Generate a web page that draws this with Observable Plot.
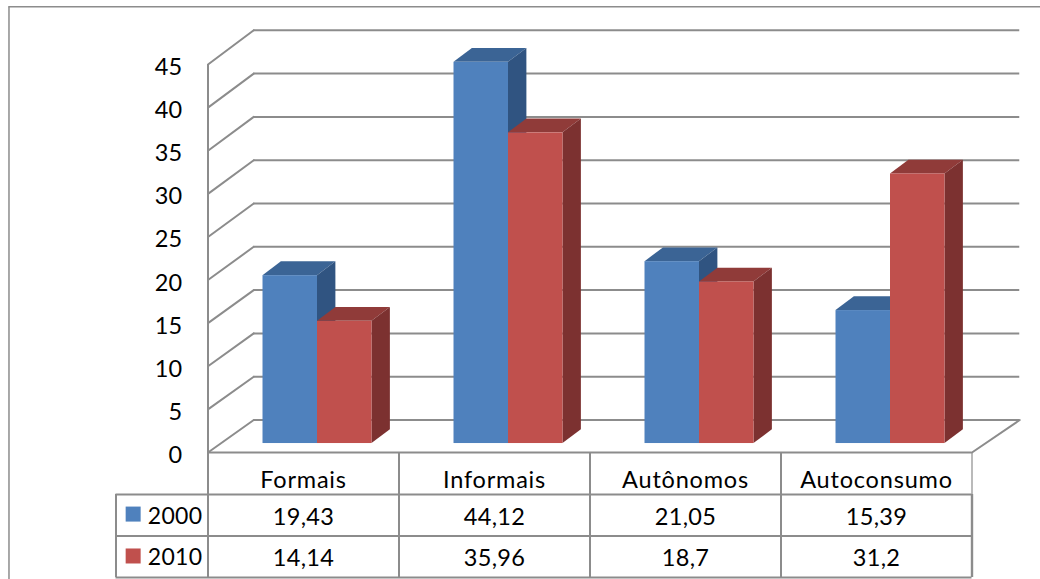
<!DOCTYPE html>
<html>
<head>
<meta charset="utf-8">
<script src="https://cdn.jsdelivr.net/npm/d3@7"></script>
<script src="https://cdn.jsdelivr.net/npm/@observablehq/plot@0.6"></script>
<style>
  html, body { margin: 0; padding: 0; background: #fff; }
  svg { display: block; }
</style>
</head>
<body>
<div id="chart"></div>
<script>
// Chart data
const categories = ["Formais", "Informais", "Autônomos", "Autoconsumo"];
const seriesNames = ["2000", "2010"];
const values2000 = [19.43, 44.12, 21.05, 15.39];
const values2010 = [14.14, 35.96, 18.7, 31.2];
const yTicks = [0, 5, 10, 15, 20, 25, 30, 35, 40, 45];

// Face colours for each series
const frontColors = ["#4f81bd", "#c0504d"];
const topColors = ["#3b6495", "#903b39"];
const sideColors = ["#305481", "#7c3130"];
const lineColor = "#8c8c8c";
const font = "Lato, 'Noto Sans', sans-serif";
const fontSize = 23.5;

// Pseudo-3D geometry, in scale units (x: one unit per category, y: chart value)
const wallDx = 0.2395, wallRight = 4.25, wallDy = 3.77, wallStretch = 1.0044;
const barStart = 0.288, barWidth = 0.2853;
const barDx = 0.0963, barDy = 1.6;
const barBase = 1.04, barStretch = 1.002;

// Table and outer frame, in the same scale units
const rowLines = [0, -4.87, -9.68, -14.5];
const rowText = [-3.3, -7.48, -12.25];
const keyMid = [-7.2, -12.06];
const tableLeft = -0.4817;
const frameLeft = -1.042, frameTop = 51.7, frameRight = 4.36, frameBottom = -14.9;

const values = [values2000, values2010];
const comma = v => String(v).replace(".", ",");

// Back wall, side wall and floor lines
const gridBack = yTicks.map(t => ({x1: wallDx, x2: wallRight, y: wallDy + t * wallStretch}));
const gridSide = yTicks.flatMap(t => [
  {t, x: 0, y: t},
  {t, x: wallDx, y: wallDy + t * wallStretch}
]);
const floorRight = [{x: 4, y: 0}, {x: wallRight, y: wallDy}];

// Faces of one bar: top and side as parallelograms, front as a rectangle
function barFaces(s) {
  const bars = categories.map((c, i) => {
    const x1 = i + barStart + s * barWidth, x2 = x1 + barWidth;
    return {c, x1, x2, base: barBase, top: barBase + values[s][i] * barStretch};
  });
  const tops = bars.flatMap(b => [
    {c: b.c, x: b.x1, y1: b.top, y2: b.top},
    {c: b.c, x: b.x1 + barDx, y1: b.top, y2: b.top + barDy},
    {c: b.c, x: b.x2, y1: b.top, y2: b.top + barDy},
    {c: b.c, x: b.x2 + barDx, y1: b.top + barDy, y2: b.top + barDy}
  ]);
  const sides = bars.flatMap(b => [
    {c: b.c, x: b.x2, y1: b.base, y2: b.top},
    {c: b.c, x: b.x2 + barDx, y1: b.base + barDy, y2: b.top + barDy}
  ]);
  return [
    Plot.areaY(tops, {x: "x", y1: "y1", y2: "y2", z: "c", fill: topColors[s], curve: "linear"}),
    Plot.areaY(sides, {x: "x", y1: "y1", y2: "y2", z: "c", fill: sideColors[s], curve: "linear"}),
    Plot.rect(bars, {x1: "x1", x2: "x2", y1: "base", y2: "top", fill: frontColors[s]})
  ];
}

const textOpts = {fontSize, fontFamily: font, fill: "#000", lineAnchor: "middle"};

// Category names are set slightly looser than the numbers
const looseSpacing = (index, scales, vals, dims, ctx, next) => {
  const g = next(index, scales, vals, dims, ctx);
  g.style.letterSpacing = "0.8px";
  return g;
};

const chart = Plot.plot({
  width: 1040,
  height: 579,
  margin: 0,
  marginLeft: 208,
  style: {background: "#fff", fontFamily: font, letterSpacing: "0.3px"},
  x: {type: "linear", domain: [0, 4], range: [207.5, 971.5], axis: null},
  y: {type: "linear", domain: [0, 45], range: [452, 64], axis: null},
  marks: [
    // Outer frame
    Plot.ruleY([frameTop], {x1: frameLeft, x2: frameRight, stroke: lineColor, strokeWidth: 1.5}),
    Plot.ruleX([frameLeft], {y1: frameBottom, y2: frameTop, stroke: lineColor, strokeWidth: 1.5}),

    // Walls and floor
    Plot.ruleY(gridBack, {x1: "x1", x2: "x2", y: "y", stroke: lineColor, strokeWidth: 2}),
    Plot.line(gridSide, {x: "x", y: "y", z: "t", stroke: lineColor, strokeWidth: 2, curve: "linear"}),
    Plot.line(floorRight, {x: "x", y: "y", stroke: lineColor, strokeWidth: 2, curve: "linear"}),
    Plot.ruleX([0], {y1: rowLines[3], y2: 45, stroke: lineColor, strokeWidth: 2}),

    // Bars, earlier series underneath
    ...barFaces(0),
    ...barFaces(1),

    // Value axis
    Plot.axisY({ticks: yTicks, tickSize: 0, tickPadding: 26, fontSize, fontFamily: font, color: "#000", label: null, dy: 3}),

    // Data table grid
    Plot.ruleX([1, 2, 3], {y1: rowLines[3], y2: rowLines[0], stroke: lineColor, strokeWidth: 2}),
    Plot.ruleX([4], {y1: rowLines[1], y2: rowLines[0], stroke: lineColor, strokeWidth: 1.2}),
    Plot.ruleX([4], {y1: rowLines[3], y2: rowLines[1], stroke: lineColor, strokeWidth: 2.4}),
    Plot.ruleX([tableLeft], {y1: rowLines[3], y2: rowLines[1], stroke: lineColor, strokeWidth: 2}),
    Plot.ruleY([rowLines[0]], {x1: 0, x2: 4, stroke: lineColor, strokeWidth: 2}),
    Plot.ruleY(rowLines.slice(1), {x1: tableLeft, x2: 4, stroke: lineColor, strokeWidth: 2}),

    // Data table text
    Plot.text(categories, {x: (d, i) => i + 0.5, y: rowText[0], text: d => d, render: looseSpacing, ...textOpts}),
    ...values.map((vals, s) =>
      Plot.text(vals, {x: (d, i) => i + 0.5, y: rowText[s + 1], text: comma, ...textOpts})
    ),

    // Legend keys inside the table
    Plot.rect(seriesNames, {
      x1: -0.4285, x2: -0.35,
      y1: (d, i) => keyMid[i] - 0.87,
      y2: (d, i) => keyMid[i] + 0.87,
      fill: (d, i) => frontColors[i]
    }),
    Plot.text(seriesNames, {x: -0.315, y: (d, i) => rowText[i + 1], text: d => d, textAnchor: "start", ...textOpts, fontSize: 23})
  ]
});

document.getElementById("chart").appendChild(chart);
</script>
</body>
</html>
